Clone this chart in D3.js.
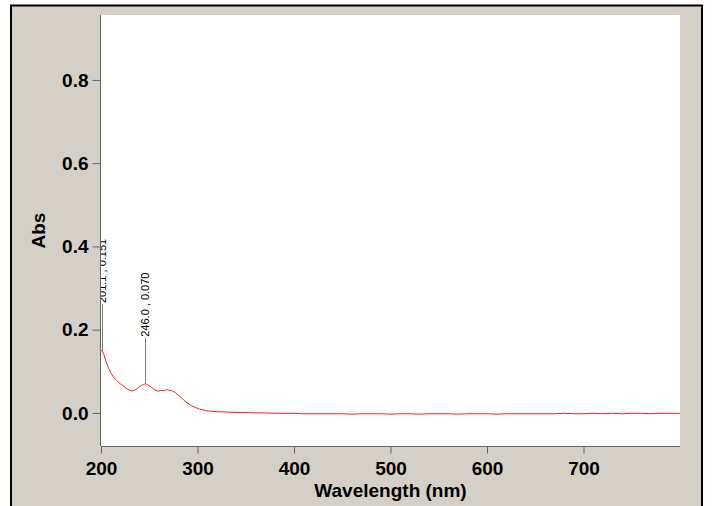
<!DOCTYPE html>
<html><head><meta charset="utf-8">
<script src="https://cdn.jsdelivr.net/npm/d3@7"></script>
<style>body{margin:0;background:#fff;}svg{display:block;}</style>
</head><body>
<svg id="c" width="712" height="506"></svg>
<script>
const wavelength = [200,201,203,205,207,210,213,216,220,225,230,233,236,239,242,244,246,248,250,253,256,259,262,265,268,271,274,277,280,283,286,290,294,298,302,306,310,315,320,330,340,350,360,370,380,390,400,410,420,430,440,450,460,470,480,490,500,510,520,530,540,550,560,570,580,590,600,610,620,630,640,650,660,670,680,690,700,710,720,730,740,750,760,770,780,790,800];
const absorbance = [0.148,0.151,0.140,0.125,0.112,0.097,0.086,0.078,0.070,0.061,0.054,0.053,0.056,0.061,0.066,0.068,0.070,0.068,0.065,0.060,0.055,0.052,0.054,0.053,0.056,0.054,0.053,0.049,0.043,0.037,0.030,0.023,0.017,0.013,0.009,0.007,0.005,0.004,0.003,0.002,0.001,0.001,0.000,0.000,-0.001,-0.001,-0.001,-0.002,-0.002,-0.002,-0.002,-0.002,-0.003,-0.002,-0.002,-0.002,-0.003,-0.002,-0.002,-0.003,-0.002,-0.002,-0.002,-0.003,-0.002,-0.002,-0.002,-0.003,-0.002,-0.002,-0.002,-0.002,-0.002,-0.002,-0.001,-0.002,-0.002,-0.001,-0.002,-0.001,-0.002,-0.001,-0.001,-0.002,-0.001,-0.001,-0.001];
const peakWl = [201.1, 246.0];
const peakAbs = [0.151, 0.070];
const xTicks = [200,300,400,500,600,700];
const yTicks = [0.0,0.2,0.4,0.6,0.8];
const xTitle = "Wavelength (nm)";
const yTitle = "Abs";

const svg = d3.select("#c");
const L=101, R=680, T=15, B=446;
const x = d3.scaleLinear().domain([200,800]).range([L,R]);
const y = d3.scaleLinear().domain([-0.0795,0.956]).range([B,T]);

svg.append("rect").attr("x",11).attr("y",5.5).attr("width",691).attr("height",520)
  .attr("fill","#d4d0c8").attr("stroke","#000").attr("stroke-width",2);
svg.append("rect").attr("x",L).attr("y",T).attr("width",R-L).attr("height",B-T).attr("fill","#fff");
svg.append("clipPath").attr("id","pc").append("rect").attr("x",L).attr("y",T).attr("width",R-L).attr("height",B-T);

const font = "'Liberation Sans', Arial, sans-serif";
// axes
const ya = svg.append("g").attr("transform",`translate(${L-0.5},0)`)
  .call(d3.axisLeft(y).tickValues(yTicks).tickSize(8).tickPadding(4).tickFormat(d3.format(".1f")));
const xa = svg.append("g").attr("transform",`translate(0,${B+0.5})`)
  .call(d3.axisBottom(x).tickValues(xTicks).tickSize(7).tickPadding(8).tickFormat(d3.format("d")));
[ya,xa].forEach(g=>{
  g.selectAll("path,line").attr("stroke","#666");
  g.selectAll("text").attr("font-family",font).attr("font-size",19).attr("font-weight","bold").attr("fill","#000");
});
ya.select(".domain").attr("d",`M-0,${T}V${B}`);
xa.select(".domain").attr("d",`M${L},0H${R}`);

svg.append("text").attr("x",(L+R)/2).attr("y",497).attr("text-anchor","middle")
  .attr("font-family",font).attr("font-size",19).attr("font-weight","bold").text(xTitle);
svg.append("text").attr("transform",`translate(44.5,${(T+B)/2}) rotate(-90)`).attr("text-anchor","middle")
  .attr("font-family",font).attr("font-size",19).attr("font-weight","bold").text(yTitle);

const plot = svg.append("g").attr("clip-path","url(#pc)");
const data = wavelength.map((w,i)=>[w,absorbance[i]]);
plot.append("path").datum(data)
  .attr("d",d3.line().x(d=>x(d[0])).y(d=>y(d[1])))
  .attr("fill","none").attr("stroke","#ff2020").attr("stroke-width",1);

peakWl.forEach((w,i)=>{
  const px = Math.round(x(w))+0.5, py = y(peakAbs[i]);
  plot.append("line").attr("x1",px).attr("x2",px).attr("y1",py).attr("y2",py-46)
    .attr("stroke","#808080").attr("stroke-width",1);
  plot.append("text").attr("transform",`translate(${px},${py-47}) rotate(-90)`)
    .attr("dy","0.35em").attr("font-family",font).attr("font-size",11).attr("fill","#000")
    .text(w.toFixed(1)+" , "+peakAbs[i].toFixed(3));
});
</script>
</body></html>
